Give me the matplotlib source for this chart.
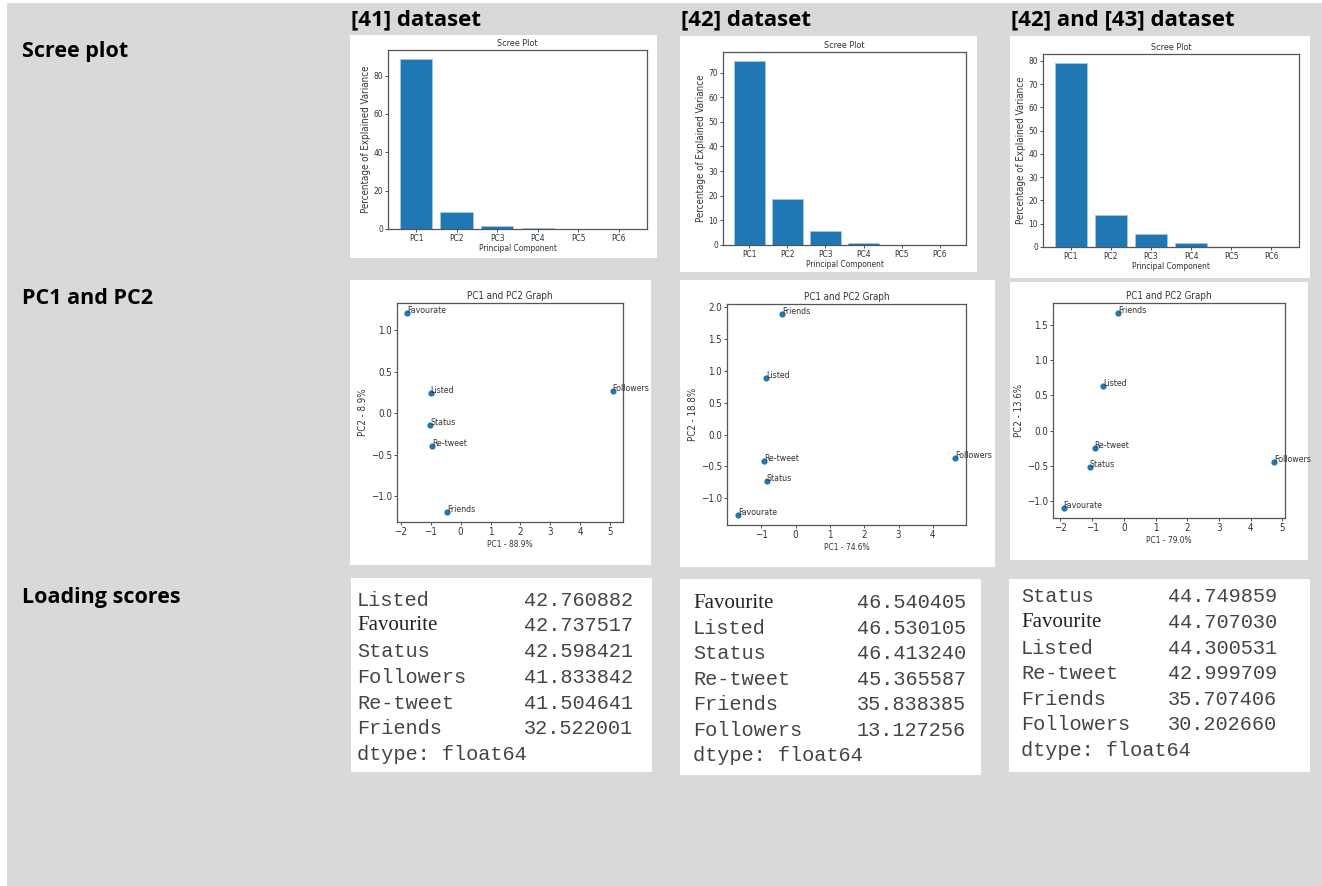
import matplotlib.pyplot as plt
from matplotlib.patches import Rectangle
from matplotlib.ticker import MultipleLocator

# figure size in pixels (dpi 100)
W, H = 1322, 886

# column headers and row titles
headers = ['[41] dataset', '[42] dataset', '[42] and [43] dataset']
row_titles = ['Scree plot', 'PC1 and PC2', 'Loading scores']

# scree plot values (% explained variance)
pcs = ['PC1', 'PC2', 'PC3', 'PC4', 'PC5', 'PC6']
scree_41 = [88.9, 8.9, 1.8, 0.4, 0.0, 0.0]
scree_42 = [74.6, 18.8, 5.7, 0.8, 0.1, 0.0]
scree_4243 = [79.0, 13.6, 5.8, 1.6, 0.0, 0.0]

# PC1 / PC2 scores per feature
features = ['Favourate', 'Listed', 'Status', 'Re-tweet', 'Friends', 'Followers']
pc1_41 = [-1.78, -1.00, -1.02, -0.95, -0.45, 5.08]
pc2_41 = [1.21, 0.24, -0.14, -0.39, -1.19, 0.27]
pc1_42 = [-1.68, -0.86, -0.84, -0.92, -0.38, 4.65]
pc2_42 = [-1.26, 0.88, -0.72, -0.42, 1.89, -0.36]
pc1_4243 = [-1.90, -0.65, -1.08, -0.92, -0.17, 4.75]
pc2_4243 = [-1.10, 0.63, -0.51, -0.24, 1.67, -0.45]
pc_var_41 = (88.9, 8.9)
pc_var_42 = (74.6, 18.8)
pc_var_4243 = (79.0, 13.6)

# loading scores
load_41_names = ['Listed', 'Favourite', 'Status', 'Followers', 'Re-tweet', 'Friends']
load_41_vals = [42.760882, 42.737517, 42.598421, 41.833842, 41.504641, 32.522001]
load_42_names = ['Favourite', 'Listed', 'Status', 'Re-tweet', 'Friends', 'Followers']
load_42_vals = [46.540405, 46.530105, 46.413240, 45.365587, 35.838385, 13.127256]
load_4243_names = ['Status', 'Favourite', 'Listed', 'Re-tweet', 'Friends', 'Followers']
load_4243_vals = [44.749859, 44.707030, 44.300531, 42.999709, 35.707406, 30.202660]

SMALL = dict(family='DejaVu Sans', stretch='condensed', color='#333333')


def box(l, t, r, b):
    # pixel box -> figure fraction [left, bottom, width, height]
    return [l / W, 1 - b / H, (r - l) / W, (b - t) / H]


def panel(l, t, r, b, color='white'):
    x0, y0, w, h = box(l, t, r, b)
    fig.add_artist(Rectangle((x0, y0), w, h, transform=fig.transFigure,
                             facecolor=color, edgecolor='none', zorder=0))


def ftext(x, y, s, **kw):
    fig.text(x / W, 1 - y / H, s, **kw)


def style_axes(ax, fs):
    for sp in ax.spines.values():
        sp.set_color('#555555')
        sp.set_linewidth(0.9)
    ax.tick_params(labelsize=fs, colors='#333333', length=2, width=0.6, pad=1.5)
    for lab in ax.get_xticklabels() + ax.get_yticklabels():
        lab.set_fontstretch('condensed')


fig = plt.figure(figsize=(W / 100, H / 100), dpi=100)
fig.patch.set_facecolor('white')
panel(7, 3, W, H, color='#d9d9d9')

# row titles and headers
for y, t in zip([52, 298, 598], row_titles):
    ftext(22, y, t, fontsize=15.5, fontweight='bold', family='Open Sans', va='center', color='black')
for x, t in zip([351, 681, 1011], headers):
    ftext(x, 20, t, fontsize=16, fontweight='bold', family='Open Sans', va='center', color='black')

# scree plots
scree_sets = [
    (scree_41, (350, 35, 657, 258), (388, 50, 647, 229)),
    (scree_42, (680, 36, 977, 272), (723, 52, 966, 245)),
    (scree_4243, (1010, 36, 1310, 278), (1043, 54, 1299, 247)),
]
for vals, wbox, abox in scree_sets:
    panel(*wbox)
    ax = fig.add_axes(box(*abox))
    ax.bar(pcs, vals, color='#1f77b4', edgecolor='#a9cbe6', linewidth=0.5)
    ax.set_title('Scree Plot', fontsize=6.5, pad=3, **SMALL)
    ax.set_ylabel('Percentage of Explained Variance', fontsize=7, labelpad=2, **SMALL)
    ax.set_xlabel('Principal Component', fontsize=6, labelpad=1, **SMALL)
    style_axes(ax, 6)

# PC1 vs PC2 plots
pc_sets = [
    (pc1_41, pc2_41, pc_var_41, (350, 280, 651, 565), (397, 303, 623, 522)),
    (pc1_42, pc2_42, pc_var_42, (680, 280, 995, 567), (727, 304, 966, 525)),
    (pc1_4243, pc2_4243, pc_var_4243, (1010, 282, 1308, 560), (1053, 303, 1285, 518)),
]
for xs, ys, var, wbox, abox in pc_sets:
    panel(*wbox)
    ax = fig.add_axes(box(*abox))
    ax.scatter(xs, ys, s=12, color='#1f77b4')
    for name, x, y in zip(features, xs, ys):
        ax.annotate(name, (x, y), fontsize=6.3, **SMALL)
    ax.set_title('PC1 and PC2 Graph', fontsize=7, pad=3, **SMALL)
    ax.set_xlabel(f'PC1 - {var[0]:.1f}%', fontsize=6, labelpad=2, **SMALL)
    ax.set_ylabel(f'PC2 - {var[1]:.1f}%', fontsize=7, labelpad=2, **SMALL)
    ax.xaxis.set_major_locator(MultipleLocator(1))
    ax.yaxis.set_major_locator(MultipleLocator(0.5))
    style_axes(ax, 7)

# loading score tables
load_sets = [
    (load_41_names, load_41_vals, (351, 578, 652, 772), 357, 633, 600, 25.8),
    (load_42_names, load_42_vals, (680, 579, 981, 775), 693, 966, 603, 25.4),
    (load_4243_names, load_4243_vals, (1009, 579, 1310, 772), 1021, 1277, 597, 25.6),
]
for names, vals, wbox, xl, xr, y0, dy in load_sets:
    panel(*wbox)
    for i, (n, v) in enumerate(zip(names, vals)):
        y = y0 + i * dy
        if n == 'Favourite':
            ftext(xl, y, n, fontsize=15, family='Liberation Serif', va='center', color='#222222')
        else:
            ftext(xl, y, n, fontsize=14.6, family='Liberation Mono', va='center', color='#444444')
        ftext(xr, y, f'{v:.6f}', fontsize=14.6, family='Liberation Mono', va='center',
              ha='right', color='#444444')
    ftext(xl, y0 + len(names) * dy, 'dtype: float64', fontsize=14.6,
          family='Liberation Mono', va='center', color='#444444')

fig.savefig('out.png', dpi=100, facecolor=fig.get_facecolor())
